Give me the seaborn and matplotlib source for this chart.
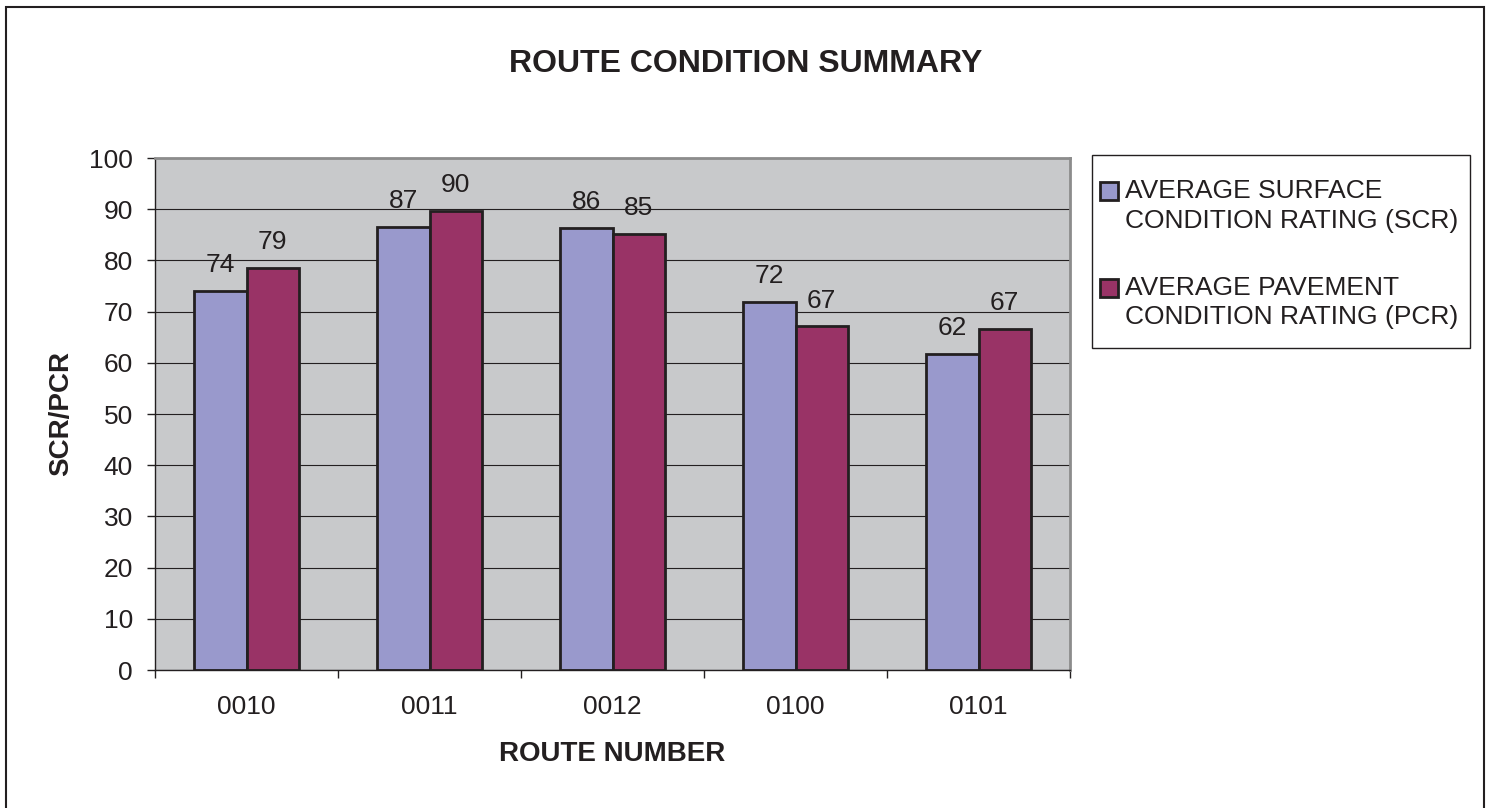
import pandas as pd
import matplotlib.pyplot as plt
from matplotlib.patches import Rectangle
from matplotlib.legend_handler import HandlerPatch
from matplotlib.ticker import FixedLocator
import seaborn as sns

# data
routes = ['0010', '0011', '0012', '0100', '0101']
scr = [74.1, 86.6, 86.3, 71.9, 61.7]
pcr = [78.6, 89.6, 85.2, 67.1, 66.6]
series = ['AVERAGE SURFACE\nCONDITION RATING (SCR)',
          'AVERAGE PAVEMENT\nCONDITION RATING (PCR)']
colors = ['#9999cc', '#993366']
y_ticks = list(range(0, 101, 10))

df = pd.DataFrame({
    'route': routes * 2,
    'value': scr + pcr,
    'series': [series[0]] * len(routes) + [series[1]] * len(routes),
})

sns.set_theme(style="white")
plt.rcParams['font.family'] = ['Liberation Sans', 'DejaVu Sans']

W, H = 1490, 808
fig = plt.figure(figsize=(W / 100, H / 100), dpi=100)
ax = fig.add_axes([155 / W, 1 - 670 / H, 915 / W, 512 / H])

sns.barplot(data=df, x='route', y='value', hue='series', palette=colors,
            width=0.57, saturation=1, errorbar=None,
            edgecolor='#231f20', linewidth=2, ax=ax)

ax.set_facecolor('#c8c9cb')
ax.set_axisbelow(True)
ax.yaxis.grid(True, color='#231f20', lw=0.8)
ax.set_ylim(0, 100)
ax.set_xlim(-0.5, len(routes) - 0.5)
ax.set_yticks(y_ticks)

for s in ['top', 'right']:
    ax.spines[s].set_color('#8c8c8c')
    ax.spines[s].set_linewidth(2)
for s in ['left', 'bottom']:
    ax.spines[s].set_color('#231f20')
    ax.spines[s].set_linewidth(1)

ax.tick_params(axis='y', left=True, direction='out', length=6, width=1,
               color='#231f20', pad=10, labelsize=19, labelcolor='#231f20')
ax.tick_params(axis='x', which='major', bottom=False, length=0, pad=18,
               labelsize=19, labelcolor='#231f20')
ax.xaxis.set_minor_locator(FixedLocator([i - 0.5 for i in range(len(routes) + 1)]))
ax.tick_params(axis='x', which='minor', bottom=True, direction='out',
               length=6, width=1, color='#231f20')

# value labels
for c in ax.containers:
    ax.bar_label(c, fmt='%.0f', padding=10, fontsize=19, color='#231f20')

ax.set_xlabel('ROUTE NUMBER', fontsize=20, fontweight='bold', color='#231f20')
ax.set_ylabel('SCR/PCR', fontsize=20, fontweight='bold', color='#231f20')
ax.xaxis.label.set_va('center')
ax.xaxis.set_label_coords(0.5, (670 - 754) / 512)
ax.yaxis.label.set_va('center')
ax.yaxis.set_label_coords((61 - 155) / 915, 0.5)

fig.text(746 / W, 1 - 64 / H, 'ROUTE CONDITION SUMMARY', ha='center', va='center',
         fontsize=23, fontweight='bold', color='#231f20')


# legend square sits next to the first text line
def top_square(legend, orig_handle, xdescent, ydescent, width, height, fontsize):
    return Rectangle((-xdescent, -ydescent + 10.8), width, height)


handles, labels = ax.get_legend_handles_labels()
ax.get_legend().remove()
leg = ax.legend(handles, labels, loc='upper left',
                bbox_to_anchor=(1100 / W, 1 - 179 / H), bbox_transform=fig.transFigure,
                frameon=False, fontsize=19, handlelength=0.7, handleheight=0.7,
                handletextpad=0.25, labelspacing=1.64, borderpad=0, borderaxespad=0,
                labelcolor='#231f20',
                handler_map={h: HandlerPatch(patch_func=top_square) for h in handles})
for t in leg.get_texts():
    t.set_linespacing(1.29)
fig.add_artist(Rectangle((1092 / W, 1 - 348 / H), (1470 - 1092) / W, (348 - 155) / H,
                         transform=fig.transFigure, fill=False, ec='#231f20', lw=1))

# outer border
fig.add_artist(Rectangle((6 / W, -0.02), (1484 - 6) / W, 1.02 - 7 / H,
                         transform=fig.transFigure, fill=False, ec='#231f20', lw=1.5))

plt.savefig('out.png', dpi=100)
plt.close()
